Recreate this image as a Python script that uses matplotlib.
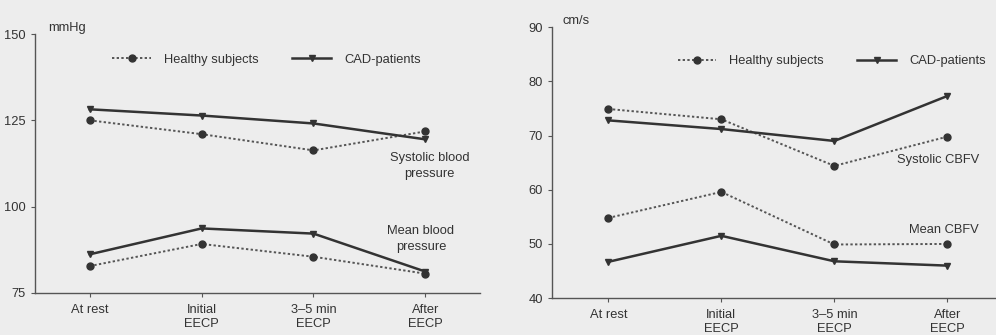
import matplotlib.pyplot as plt

# time points
phases = ['At rest', 'Initial\nEECP', '3\u20135 min\nEECP', 'After\nEECP']

# blood pressure (mmHg)
bp_sys_healthy = [125.0, 121.0, 116.3, 121.8]
bp_sys_cad = [128.2, 126.4, 124.1, 119.5]
bp_mean_healthy = [82.8, 89.2, 85.5, 80.6]
bp_mean_cad = [86.2, 93.7, 92.2, 81.2]

# cerebral blood flow velocity (cm/s)
cbfv_sys_healthy = [74.9, 73.0, 64.4, 69.8]
cbfv_sys_cad = [72.8, 71.2, 69.0, 77.3]
cbfv_mean_healthy = [54.8, 59.6, 49.9, 50.0]
cbfv_mean_cad = [46.7, 51.5, 46.8, 46.0]

plt.rcParams['font.family'] = ['Liberation Sans', 'DejaVu Sans']
plt.rcParams['font.size'] = 9.3
txt = '#333333'
bg = '#ededed'

fig = plt.figure(figsize=(9.96, 3.35), dpi=100, facecolor=bg)
ax1 = fig.add_axes([0.0351, 0.1254, 0.447, 0.773])
ax2 = fig.add_axes([0.554, 0.110, 0.446, 0.809])

x = list(range(len(phases)))


def draw(ax, h_sys, c_sys, h_mean, c_mean):
    ax.set_facecolor(bg)
    kw_h = dict(color='#555555', linestyle=(0, (1.2, 1.2)), linewidth=1.4,
                marker='o', markersize=5, markerfacecolor='#333333',
                markeredgecolor='#333333')
    kw_c = dict(color='#333333', linestyle='-', linewidth=1.8,
                marker='v', markersize=4.5)
    ax.plot(x, h_sys, label='Healthy subjects', **kw_h)
    ax.plot(x, c_sys, label='CAD-patients', **kw_c)
    ax.plot(x, h_mean, **kw_h)
    ax.plot(x, c_mean, **kw_c)
    for s in ['top', 'right']:
        ax.spines[s].set_visible(False)
    for s in ['left', 'bottom']:
        ax.spines[s].set_color('#555555')
        ax.spines[s].set_linewidth(1.0)
    ax.set_xticks(x)
    ax.set_xticklabels(phases, color=txt)
    ax.tick_params(axis='both', colors='#555555', labelcolor=txt,
                   length=3, direction='out')
    ax.tick_params(axis='x', pad=5)


draw(ax1, bp_sys_healthy, bp_sys_cad, bp_mean_healthy, bp_mean_cad)
ax1.set_xlim(-0.49, 3.49)
ax1.set_ylim(75, 150)
ax1.set_yticks([75, 100, 125, 150])
ax1.text(0.03, 1.0, 'mmHg', transform=ax1.transAxes, color=txt,
         ha='left', va='bottom')
ax1.text(3.04, 115.8, 'Systolic blood\npressure', ha='center', va='top',
         color=txt, linespacing=1.4)
ax1.text(2.96, 94.6, 'Mean blood\npressure', ha='center', va='top',
         color=txt, linespacing=1.4)
ax1.legend(loc='center', bbox_to_anchor=(0.52, 0.90), ncol=2, frameon=False,
           handlelength=3.0, handletextpad=1.0, columnspacing=2.6,
           labelcolor=txt)

draw(ax2, cbfv_sys_healthy, cbfv_sys_cad, cbfv_mean_healthy, cbfv_mean_cad)
ax2.set_xlim(-0.5, 3.43)
ax2.set_ylim(40, 90)
ax2.set_yticks([40, 50, 60, 70, 80, 90])
ax2.text(0.025, 1.0, 'cm/s', transform=ax2.transAxes, color=txt,
         ha='left', va='bottom')
ax2.text(2.92, 65.5, 'Systolic CBFV', ha='center', va='center', color=txt)
ax2.text(2.97, 52.5, 'Mean CBFV', ha='center', va='center', color=txt)
ax2.legend(loc='center', bbox_to_anchor=(0.63, 0.875), ncol=2, frameon=False,
           handlelength=3.0, handletextpad=1.0, columnspacing=2.6,
           labelcolor=txt)

fig.savefig('out.png', dpi=100, facecolor=bg)
